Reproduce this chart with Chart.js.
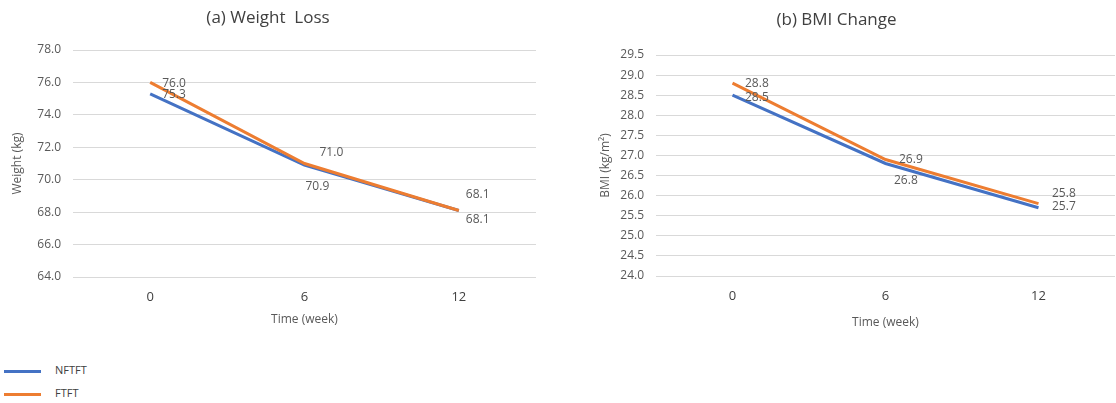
<!DOCTYPE html>
<html>
<head>
<meta charset="utf-8">
<script src="https://cdn.jsdelivr.net/npm/chart.js@4/dist/chart.umd.min.js"></script>
<style>
  html, body { margin: 0; padding: 0; background: #ffffff; }
  body { width: 1116px; height: 403px; position: relative; overflow: hidden; font-family: "Open Sans", "Noto Sans", sans-serif; }
  .panel { position: absolute; top: 0; width: 558px; height: 340px; }
  #panelA { left: 0; }
  #panelB { left: 558px; }
  .legend { position: absolute; left: 0; top: 361px; }
  .legend .item { position: absolute; left: 0; width: 200px; height: 20px; }
  .legend .swatch { position: absolute; left: 4px; top: 9px; width: 37px; height: 3px; }
  .legend .label { position: absolute; left: 55px; top: 0px; font-size: 11px; color: #404040; line-height: 18px; }
</style>
</head>
<body>
<div class="panel" id="panelA"><canvas id="weightChart"></canvas></div>
<div class="panel" id="panelB"><canvas id="bmiChart"></canvas></div>
<div class="legend" id="legend"></div>

<script>
// Study time points and group names
const weeks = ['0', '6', '12'];
const groupNames = ['NFTFT', 'FTFT'];

// Mean body weight (kg) per group
const weightNFTFT = [75.3, 70.9, 68.1];
const weightFTFT = [76.0, 71.0, 68.1];

// Mean BMI (kg/m²) per group
const bmiNFTFT = [28.5, 26.8, 25.7];
const bmiFTFT = [28.8, 26.9, 25.8];

const groupColors = ['#4472C4', '#ED7D31'];

// Draws each point's value beside it; offsets are [dx, dy] per dataset and point
const valueLabels = {
  id: 'valueLabels',
  afterDatasetsDraw(chart, args, opts) {
    const ctx = chart.ctx;
    ctx.save();
    ctx.font = opts.font;
    ctx.fillStyle = opts.color;
    ctx.textAlign = 'left';
    ctx.textBaseline = 'middle';
    chart.data.datasets.forEach((ds, di) => {
      const meta = chart.getDatasetMeta(di);
      meta.data.forEach((pt, i) => {
        const off = opts.offsets[di][i];
        ctx.fillText(ds.data[i].toFixed(1), pt.x + off[0], pt.y + off[1]);
      });
    });
    ctx.restore();
  }
};

function makeChart(canvasId, cfg) {
  const datasets = cfg.series.map((values, i) => ({
    label: groupNames[i],
    data: values,
    borderColor: groupColors[i],
    backgroundColor: groupColors[i],
    borderWidth: 3,
    pointRadius: 0,
    pointHoverRadius: 0,
    tension: 0,
    fill: false,
    order: i === 1 ? 0 : 1
  }));

  return new Chart(document.getElementById(canvasId), {
    type: 'line',
    data: { labels: weeks, datasets },
    plugins: [valueLabels],
    options: {
      responsive: true,
      maintainAspectRatio: false,
      animation: false,
      layout: { padding: { left: 0, right: cfg.padRight, top: 0, bottom: 0 } },
      plugins: {
        legend: { display: false },
        tooltip: { enabled: false },
        title: {
          display: true,
          text: cfg.title,
          color: '#404040',
          font: { family: '"Open Sans", "Noto Sans", sans-serif', size: 17, weight: 'normal' },
          padding: { top: cfg.titleTop, bottom: cfg.titleBottom }
        },
        valueLabels: {
          font: '12px "Open Sans", "Noto Sans", sans-serif',
          color: '#595959',
          offsets: cfg.labelOffsets
        }
      },
      scales: {
        x: {
          offset: true,
          grid: { display: false, drawTicks: false },
          border: { display: false },
          ticks: {
            color: '#404040',
            padding: 12,
            font: { family: '"Open Sans", "Noto Sans", sans-serif', size: 13 }
          },
          title: {
            display: true,
            text: 'Time (week)',
            color: '#595959',
            font: { family: '"Open Sans", "Noto Sans", sans-serif', size: 12 },
            padding: { top: 0, bottom: cfg.xTitleBottom }
          },
          afterFit(scale) { scale.height = 340 - cfg.plotBottom; }
        },
        y: {
          min: cfg.yMin,
          max: cfg.yMax,
          grid: { color: '#d9d9d9', lineWidth: 1, drawTicks: false },
          border: { display: false },
          ticks: {
            stepSize: cfg.yStep,
            color: '#595959',
            padding: 12,
            font: { family: '"Open Sans", "Noto Sans", sans-serif', size: 12 },
            callback: v => Number(v).toFixed(1)
          },
          title: {
            display: true,
            text: cfg.yTitle,
            color: '#595959',
            font: { family: '"Open Sans", "Noto Sans", sans-serif', size: 12 },
            padding: { top: cfg.yTitlePad, bottom: 0 }
          },
          afterFit(scale) { scale.width = cfg.plotLeft; }
        }
      }
    }
  });
}

makeChart('weightChart', {
  title: '(a) Weight  Loss',
  series: [weightNFTFT, weightFTFT],
  yMin: 64, yMax: 78, yStep: 2,
  yTitle: 'Weight (kg)',
  plotLeft: 73, plotBottom: 277, padRight: 22,
  titleTop: 8, titleBottom: 21.6,
  yTitlePad: 10,
  xTitleBottom: 13,
  labelOffsets: [
    [[12, 1], [1, 21], [7, 9]],
    [[12, 1], [15, -11], [7, -16]]
  ]
});

makeChart('bmiChart', {
  title: '(b) BMI Change',
  series: [bmiNFTFT, bmiFTFT],
  yMin: 24, yMax: 29.5, yStep: 0.5,
  yTitle: 'BMI (kg/m²)',
  plotLeft: 98, plotBottom: 276, padRight: 1,
  titleTop: 10, titleBottom: 24.6,
  yTitlePad: 40,
  xTitleBottom: 10,
  labelOffsets: [
    [[12.5, 2], [8.5, 17.5], [13.5, -1]],
    [[12.5, 0], [13.5, 0.5], [13.5, -10]]
  ]
});

// Legend below both panels
const legend = document.getElementById('legend');
groupNames.forEach((name, i) => {
  const item = document.createElement('div');
  item.className = 'item';
  item.style.top = (i * 23) + 'px';
  const sw = document.createElement('div');
  sw.className = 'swatch';
  sw.style.background = groupColors[i];
  const lb = document.createElement('div');
  lb.className = 'label';
  lb.textContent = name;
  item.appendChild(sw);
  item.appendChild(lb);
  legend.appendChild(item);
});
</script>
</body>
</html>
